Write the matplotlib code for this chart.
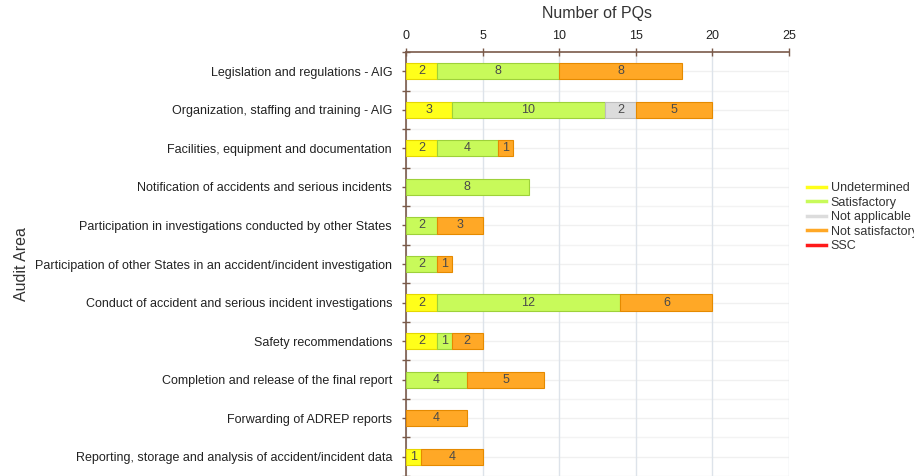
import numpy as np
import matplotlib
matplotlib.use("Agg")
import matplotlib.pyplot as plt
from matplotlib.lines import Line2D

plt.rcParams["font.family"] = ["Liberation Sans", "DejaVu Sans"]

# Datos
areas = [
    "Legislation and regulations - AIG",
    "Organization, staffing and training - AIG",
    "Facilities, equipment and documentation",
    "Notification of accidents and serious incidents",
    "Participation in investigations conducted by other States",
    "Participation of other States in an accident/incident investigation",
    "Conduct of accident and serious incident investigations",
    "Safety recommendations",
    "Completion and release of the final report",
    "Forwarding of ADREP reports",
    "Reporting, storage and analysis of accident/incident data",
]
undetermined = [2, 3, 2, 0, 0, 0, 2, 2, 0, 0, 1]
satisfactory = [8, 10, 4, 8, 2, 2, 12, 1, 4, 0, 0]
not_applicable = [0, 2, 0, 0, 0, 0, 0, 0, 0, 0, 0]
not_satisfactory = [8, 5, 1, 0, 3, 1, 6, 2, 5, 4, 4]
ssc = [0] * len(areas)

series = [
    ("Undetermined", undetermined, "#ffff1a", "#e6d800"),
    ("Satisfactory", satisfactory, "#c8fa5a", "#9ed13a"),
    ("Not applicable", not_applicable, "#dcdcdc", "#bdbdbd"),
    ("Not satisfactory", not_satisfactory, "#ffa826", "#e58a00"),
    ("SSC", ssc, "#ff1a1a", "#cc0000"),
]

fig = plt.figure(figsize=(9.14, 4.76), dpi=100, facecolor="white")
ax = fig.add_axes([406 / 914, 0.0, 383 / 914, 424 / 476])

y = np.arange(len(areas))
left = np.zeros(len(areas))
for name, vals, fc, ec in series:
    vals = np.array(vals, dtype=float)
    nz = vals > 0
    if nz.any():
        ax.barh(y[nz], vals[nz], left=left[nz], height=0.42, color=fc,
                edgecolor=ec, linewidth=0.8, zorder=3)
    for yi, (l, v) in enumerate(zip(left, vals)):
        if v > 0:
            ax.text(l + v / 2, yi, f"{int(v)}", ha="center", va="center",
                    fontsize=9, color="#4a4a4a", zorder=4)
    left += vals

ax.set_xlim(0, 25)
ax.set_ylim(len(areas) - 0.5, -0.5)
ax.xaxis.tick_top()
ax.xaxis.set_label_position("top")
ax.set_xticks([0, 5, 10, 15, 20, 25])
ax.set_xlabel("Number of PQs", fontsize=11.5, color="#333333", labelpad=9)
ax.set_ylabel("Audit Area", fontsize=11.5, color="#333333")
ax.yaxis.set_label_coords(-0.985, 0.5)

ax.set_yticks(y)
ax.set_yticklabels(areas, fontsize=9, color="#222222")
ax.set_yticks(np.arange(len(areas) + 1) - 0.5, minor=True)
ax.tick_params(axis="y", which="major", length=3, width=1, color="#7a5a4a",
               pad=7)
ax.tick_params(axis="y", which="minor", length=6, width=1, color="#7a5a4a",
               direction="inout")
ax.tick_params(axis="x", length=6, width=1, color="#7a5a4a",
               direction="inout", labelsize=9, labelcolor="#222222", pad=4)

for sp in ["right", "bottom"]:
    ax.spines[sp].set_visible(False)
for sp in ["left", "top"]:
    ax.spines[sp].set_color("#7a5a4a")
    ax.spines[sp].set_linewidth(1.2)

ax.grid(axis="x", color="#dde3ea", linewidth=1, zorder=0)
for yy in np.arange(len(areas)):
    ax.axhline(yy, color="#f0f0f0", linewidth=1, zorder=0)
    ax.axhline(yy + 0.5, color="#f3f3f3", linewidth=1, zorder=0)

handles = [Line2D([0], [0], color=fc, lw=2.5, label=name)
           for name, _, fc, _ in series]
fig.legend(handles=handles, loc="upper left", bbox_to_anchor=(0.878, 0.628),
           frameon=False, fontsize=9, handlelength=1.5, handletextpad=0.35,
           labelspacing=0.2, borderaxespad=0, labelcolor="#333333")

fig.savefig("out.png", dpi=100, facecolor="white")
